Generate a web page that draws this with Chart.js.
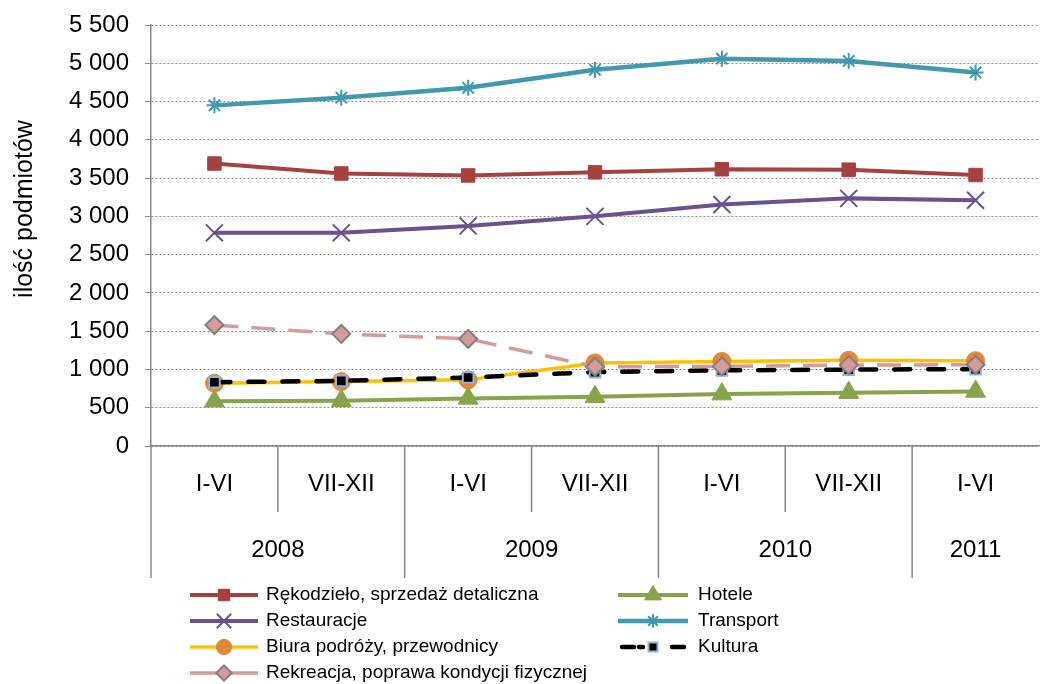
<!DOCTYPE html>
<html>
<head>
<meta charset="utf-8">
<script src="https://cdn.jsdelivr.net/npm/chart.js@4.4.0/dist/chart.umd.min.js"></script>
<style>
  html, body { margin: 0; padding: 0; overflow: hidden; background: #fff; }
</style>
</head>
<body>
<canvas id="wykres" width="1053" height="684"></canvas>
<script>
// Dane
const kategorie = ['I-VI', 'VII-XII', 'I-VI', 'VII-XII', 'I-VI', 'VII-XII', 'I-VI'];
const lata = ['2008', '2009', '2010', '2011'];
const rozpietosc = [2, 2, 2, 1];

const rekodzielo = [3690, 3560, 3535, 3575, 3615, 3610, 3540];
const restauracje = [2785, 2785, 2875, 3000, 3155, 3235, 3210];
const biura = [820, 842, 864, 1085, 1105, 1120, 1115];
const rekreacja = [1580, 1465, 1400, 1035, 1040, 1057, 1062];
const hotele = [585, 592, 622, 645, 678, 697, 713];
const transport = [4450, 4550, 4680, 4915, 5060, 5030, 4880];
const kultura = [833, 851, 895, 965, 988, 998, 1005];

const FONT = '"Liberation Sans", Arial, sans-serif';

// Serie (kolejność jak w legendzie: kolumna 1, potem kolumna 2)
const serie = [
    { label: 'Rękodzieło, sprzedaż detaliczna', data: rekodzielo, borderColor: '#A5413E',
      backgroundColor: '#A5413E', pointBorderColor: '#A5413E', pointStyle: 'rect',
      pointRadius: 9.5, pointBorderWidth: 1, borderWidth: 4, order: 3, kol: 0, wiersz: 0 },
    { label: 'Restauracje', data: restauracje, borderColor: '#6C5190',
      backgroundColor: '#6C5190', pointBorderColor: '#6C5190', pointStyle: 'crossRot',
      pointRadius: 12, pointBorderWidth: 2, borderWidth: 4, order: 3, kol: 0, wiersz: 1 },
    { label: 'Biura podróży, przewodnicy', data: biura, borderColor: '#FFC000',
      backgroundColor: '#E3883B', pointBorderColor: '#E3883B', pointStyle: 'circle',
      pointRadius: 9, pointBorderWidth: 1, borderWidth: 3.5, order: 2, kol: 0, wiersz: 2 },
    { label: 'Rekreacja, poprawa kondycji fizycznej', data: rekreacja, borderColor: '#D59B9A',
      backgroundColor: '#D59B9A', pointBorderColor: '#7F7F7F', pointStyle: 'rectRot',
      pointRadius: 9, pointBorderWidth: 2, borderWidth: 3.5, borderDash: [24, 13], order: 0, kol: 0, wiersz: 3 },
    { label: 'Hotele', data: hotele, borderColor: '#86A44A',
      backgroundColor: '#86A44A', pointBorderColor: '#86A44A', pointStyle: 'triangle',
      pointRadius: 11.5, pointBorderWidth: 1, borderWidth: 4, order: 3, kol: 1, wiersz: 0 },
    { label: 'Transport', data: transport, borderColor: '#4198AF',
      backgroundColor: '#4198AF', pointBorderColor: '#4198AF', pointStyle: 'star',
      pointRadius: 8, pointBorderWidth: 2, borderWidth: 4.5, order: 3, kol: 1, wiersz: 1 },
    { label: 'Kultura', data: kultura, borderColor: '#000000',
      backgroundColor: '#000000', pointBorderColor: '#95B3D7', pointStyle: 'rect',
      pointRadius: 7.5, pointBorderWidth: 2, borderWidth: 4.5, borderDash: [16, 18],
      borderCapStyle: 'round', order: 1, kol: 1, wiersz: 2 }
];

function formatLiczby(v) {
    if (v < 1000) return String(v);
    const tys = Math.floor(v / 1000);
    const reszta = String(v % 1000).padStart(3, '0');
    return tys + ' ' + reszta;
}

function linia(ctx, x1, y1, x2, y2) {
    ctx.beginPath();
    ctx.moveTo(x1, y1);
    ctx.lineTo(x2, y2);
    ctx.stroke();
}

// Oś X dwupoziomowa, tytuł osi Y i legenda
const dodatki = {
    id: 'dodatki',
    afterDraw(chart) {
        const ctx = chart.ctx;
        const a = chart.chartArea;
        const krok = (a.right - a.left) / kategorie.length;
        ctx.save();

        // linie podziału pod osią
        ctx.strokeStyle = '#868686';
        ctx.lineWidth = 1.5;
        linia(ctx, a.left, a.bottom, a.left, 578);
        for (let i = 1; i < kategorie.length; i++) {
            const x = a.left + i * krok;
            linia(ctx, x, a.bottom, x, i % 2 === 0 ? 578 : 512);
        }

        // etykiety kategorii i lat
        ctx.fillStyle = '#000';
        ctx.font = '24px ' + FONT;
        ctx.textAlign = 'center';
        ctx.textBaseline = 'middle';
        kategorie.forEach((k, i) => ctx.fillText(k, a.left + (i + 0.5) * krok, 484));
        let start = 0;
        lata.forEach((r, j) => {
            ctx.fillText(r, a.left + (start + rozpietosc[j] / 2) * krok, 550);
            start += rozpietosc[j];
        });

        // tytuł osi Y
        ctx.save();
        ctx.translate(25, 209);
        ctx.rotate(-Math.PI / 2);
        ctx.font = '25px ' + FONT;
        ctx.fillText('ilość podmiotów', 0, 0);
        ctx.restore();

        // legenda
        const kolX = [{ l1: 190, l2: 258, t: 266 }, { l1: 618, l2: 688, t: 698 }];
        const wierszY = [595, 621, 647, 673];
        ctx.font = '19px ' + FONT;
        ctx.textAlign = 'left';
        serie.forEach(s => {
            const k = kolX[s.kol];
            const y = wierszY[s.wiersz];
            const xm = (k.l1 + k.l2) / 2;
            ctx.strokeStyle = s.borderColor;
            ctx.lineWidth = s.borderWidth;
            ctx.lineCap = s.borderCapStyle || 'butt';
            if (s.label === 'Kultura') {
                linia(ctx, k.l1 + 4, y, k.l1 + 16, y);
                linia(ctx, xm - 14, y, xm - 10, y);
                linia(ctx, k.l2 - 16, y, k.l2 - 4, y);
            } else {
                linia(ctx, k.l1, y, k.l2, y);
            }
            ctx.lineCap = 'butt';
            ctx.fillStyle = s.backgroundColor;
            ctx.strokeStyle = s.pointBorderColor;
            ctx.lineWidth = s.pointBorderWidth;
            Chart.helpers.drawPoint(ctx, {
                pointStyle: s.pointStyle,
                radius: s.pointRadius * 0.85,
                rotation: 0,
                borderWidth: s.pointBorderWidth
            }, xm, y);
            ctx.fillStyle = '#000';
            ctx.fillText(s.label, k.t, y);
        });
        ctx.restore();
    }
};

const ctx = document.getElementById('wykres').getContext('2d');
new Chart(ctx, {
    type: 'line',
    data: {
        labels: kategorie,
        datasets: serie.map(s => ({
            label: s.label,
            data: s.data,
            borderColor: s.borderColor,
            backgroundColor: s.backgroundColor,
            pointBackgroundColor: s.backgroundColor,
            pointBorderColor: s.pointBorderColor,
            pointStyle: s.pointStyle,
            pointRadius: s.pointRadius,
            pointBorderWidth: s.pointBorderWidth,
            borderWidth: s.borderWidth,
            borderDash: s.borderDash || [],
            borderCapStyle: s.borderCapStyle || 'butt',
            tension: 0,
            order: s.order,
            fill: false
        }))
    },
    options: {
        responsive: false,
        animation: false,
        layout: { padding: { left: 0, right: 0, top: 25, bottom: 0 } },
        plugins: {
            legend: { display: false },
            tooltip: { enabled: false }
        },
        scales: {
            x: {
                offset: true,
                ticks: { display: false },
                grid: { display: false },
                border: { display: true, color: '#868686', width: 1.5 },
                afterFit(scale) { scale.height = 684 - 446; }
            },
            y: {
                min: 0,
                max: 5500,
                ticks: {
                    stepSize: 500,
                    padding: 16,
                    color: '#000',
                    font: { family: FONT, size: 24 },
                    callback: v => formatLiczby(v)
                },
                grid: {
                    color: '#8C8C8C',
                    lineWidth: 1,
                    drawTicks: true,
                    tickLength: 6,
                    tickColor: '#868686'
                },
                border: { display: true, color: '#868686', width: 1.5, dash: [2, 2] },
                afterFit(scale) {
                    scale.width = 151;
                    scale.paddingTop = 14;
                    scale.paddingBottom = 14;
                }
            }
        }
    },
    plugins: [dodatki]
});
</script>
</body>
</html>
